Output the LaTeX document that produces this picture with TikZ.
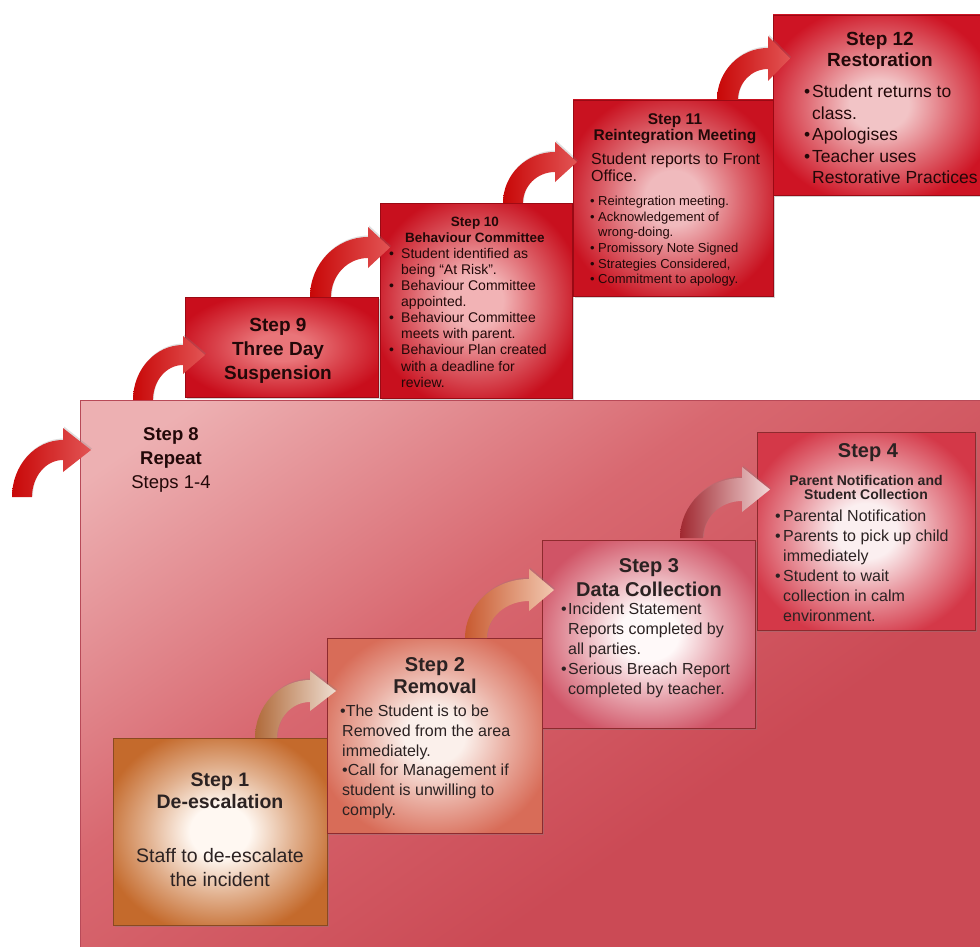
\documentclass[tikz,border=0pt]{standalone}
\usepackage{fontspec}
\setmainfont{Liberation Sans}
\usetikzlibrary{shadows}

% palette
\definecolor{panelLight}{HTML}{EDB0B2}
\definecolor{panelMid}{HTML}{D86870}
\definecolor{panelDark}{HTML}{CB4A55}
\definecolor{panelEdge}{HTML}{B84A58}
\definecolor{redEdge}{HTML}{9A0A14}
\definecolor{pinkEdge}{HTML}{8E2A2E}
\definecolor{brownEdge}{HTML}{8A4A20}
\definecolor{inkDark}{HTML}{220808}
\definecolor{inkGrey}{HTML}{2B2222}
% box centres and rims
\definecolor{nineIn}{HTML}{E97579}   \definecolor{nineOut}{HTML}{C90E1C}
\definecolor{tenIn}{HTML}{F2B3B5}    \definecolor{tenOut}{HTML}{C8101E}
\definecolor{elevenIn}{HTML}{F0BABD} \definecolor{elevenOut}{HTML}{C91220}
\definecolor{twelveIn}{HTML}{F2C4C6} \definecolor{twelveOut}{HTML}{CE1424}
\definecolor{oneIn}{HTML}{FFF8F2}    \definecolor{oneOut}{HTML}{C46A2C}
\definecolor{twoIn}{HTML}{FBF0EB}    \definecolor{twoOut}{HTML}{D86C58}
\definecolor{threeIn}{HTML}{FFF9F9}  \definecolor{threeOut}{HTML}{D05466}
\definecolor{fourIn}{HTML}{FBEFF0}   \definecolor{fourOut}{HTML}{D43848}
% arrow colours
\definecolor{curlRed}{HTML}{C80808}   \definecolor{curlRedHead}{HTML}{E25454}
\definecolor{curlTan}{HTML}{B06A3A}   \definecolor{curlTanHead}{HTML}{EEDDD0}
\definecolor{curlOrange}{HTML}{C85A30}\definecolor{curlOrangeHead}{HTML}{F2C8B0}
\definecolor{curlWine}{HTML}{A02830}  \definecolor{curlWineHead}{HTML}{F2D8D8}

% soft glow inside each step box (colours set per box)
\colorlet{boxin}{white}\colorlet{boxmid}{gray}\colorlet{boxout}{black}
\pgfdeclareradialshading[boxin,boxmid,boxout]{boxglow}{\pgfpoint{0bp}{0bp}}{%
  color(0bp)=(boxin); color(7bp)=(boxin); color(17bp)=(boxmid);
  color(28bp)=(boxout); color(50bp)=(boxout)}
% diagonal fade of the big panel, light towards its top-left corner
\pgfdeclareverticalshading{panelfade}{100bp}{%
  color(0bp)=(panelDark); color(36bp)=(panelDark); color(58bp)=(panelMid);
  color(80bp)=(panelLight); color(100bp)=(panelLight)}

\newcommand{\stfont}[2]{\fontsize{#1pt}{#2pt}\selectfont}
\newcommand{\stbul}[1][7pt]{\makebox[#1][l]{\textbullet}}
\newcommand{\stind}[1][7pt]{\hspace*{#1}}

% curved step arrow: #1 tail corner, #2 x radius, #3 y radius, #4 band width,
% #5 head overhang, #6 head length, #7 tail colour, #8 head colour
\newcommand{\stepcurl}[8]{%
  \begin{scope}[shift={(#1)},yscale=-1]
    \shade[left color=#7,right color=#8,curlshadow]
      (0,0) arc[start angle=180,end angle=90,x radius=#2,y radius=#3]
      -- ++(0,#5) -- ++(#6,{-#5-#4/2}) -- ++(-#6,{-#5-#4/2}) -- ++(0,#5)
      arc[start angle=90,end angle=180,x radius={#2-#4},y radius={#3-#4}]
      -- cycle;
  \end{scope}}

\tikzset{
  stepbox/.style n args={3}{anchor=north west, rectangle, inner sep=0pt,
    outer sep=0pt, draw=#3, line width=0.8pt,
    /utils/exec={\colorlet{boxin}{#1}\colorlet{boxout}{#2}\colorlet{boxmid}{#1!50!#2}},
    shade, shading=boxglow,
    drop shadow={opacity=0.35, shadow xshift=1.5pt, shadow yshift=-2pt}},
  curlshadow/.style={drop shadow={opacity=0.25, shadow xshift=1pt, shadow yshift=1.5pt}},
  ttl/.style={anchor=north, inner sep=0pt, align=center},
  txt/.style={anchor=north west, inner sep=0pt, align=left},
  upper/.style={text=inkDark},
  lower/.style={text=inkGrey},
}

\begin{document}
\begin{tikzpicture}[x=1pt,y=-1pt]
\useasboundingbox (0,0) rectangle (980,947);
\fill[white] (0,0) rectangle (980,947);

% ---- step 8 panel holding steps 1-4
\node[anchor=north west, rectangle, inner sep=0pt, minimum width=905pt,
      minimum height=552pt, shade, shading=panelfade, shading angle=35] (s8) at (80,400) {};
\draw[panelEdge, line width=0.8pt] (s8.north east) -- (s8.north west) -- (s8.south west);

% ---- upper steps 9-12
\node[stepbox={nineIn}{nineOut}{redEdge}, minimum width=193pt, minimum height=100pt] (s9) at (185,297) {};
\node[stepbox={tenIn}{tenOut}{redEdge}, minimum width=192pt, minimum height=195pt] (s10) at (380,203) {};
\node[stepbox={elevenIn}{elevenOut}{redEdge}, minimum width=200pt, minimum height=196pt] (s11) at (573,100) {};
\node[stepbox={twelveIn}{twelveOut}{redEdge}, minimum width=212pt, minimum height=180pt] (s12) at (773,15) {};

% ---- lower steps 1-4
\node[stepbox={oneIn}{oneOut}{brownEdge}, minimum width=214pt, minimum height=187pt] (s1) at (113,738) {};
\node[stepbox={twoIn}{twoOut}{pinkEdge}, minimum width=215pt, minimum height=195pt] (s2) at (327,638) {};
\node[stepbox={threeIn}{threeOut}{pinkEdge}, minimum width=213pt, minimum height=188pt] (s3) at (542,540) {};
\node[stepbox={fourIn}{fourOut}{pinkEdge}, minimum width=218pt, minimum height=198pt] (s4) at (757,432) {};

% ---- arrows between steps
\coordinate (c8) at (12,497);
\coordinate (c9) at (133,400);
\coordinate (c10) at (310,297);
\coordinate (c11) at (503,203);
\coordinate (c12) at (717,100);
\coordinate (c2) at (255,738);
\coordinate (c3) at (465,638);
\coordinate (c4) at (680,538);
\stepcurl{c8}{51}{57}{20}{12}{28}{curlRed}{curlRedHead}
\stepcurl{c9}{50}{55}{20}{9}{22}{curlRed}{curlRedHead}
\stepcurl{c10}{58}{60}{21}{10}{22}{curlRed}{curlRedHead}
\stepcurl{c11}{52}{51}{20}{10}{22}{curlRed}{curlRedHead}
\stepcurl{c12}{51}{52}{21}{12}{22}{curlRed}{curlRedHead}
\stepcurl{c2}{55}{58}{22}{9}{26}{curlTan}{curlTanHead}
\stepcurl{c3}{64}{59}{22}{10}{25}{curlOrange}{curlOrangeHead}
\stepcurl{c4}{62}{60}{23}{11}{28}{curlWine}{curlWineHead}

% ---- texts, steps 8-12
\node[ttl, upper, font={\stfont{18.5}{24}}] (t8) at (171,427)
  {\textbf{Step 8}\\\textbf{Repeat}\\Steps 1-4};
\node[ttl, upper, font={\stfont{19}{24}\bfseries}] (t9) at (278,318)
  {Step 9\\Three Day\\Suspension};
\node[ttl, upper, font={\stfont{13.5}{16}\bfseries}] (t10) at (475,217)
  {Step 10\\Behaviour Committee};
\node[txt, upper, font={\stfont{14}{16.1}}] (b10) at (389,248)
  {\stbul[12pt]Student identified as\\
   \stind[12pt]being “At Risk”.\\
   \stbul[12pt]Behaviour Committee\\
   \stind[12pt]appointed.\\
   \stbul[12pt]Behaviour Committee\\
   \stind[12pt]meets with parent.\\
   \stbul[12pt]Behaviour Plan created\\
   \stind[12pt]with a deadline for\\
   \stind[12pt]review.};
\node[ttl, upper, font={\stfont{15.5}{16}\bfseries}] (t11) at (675,113)
  {Step 11\\Reintegration Meeting};
\node[txt, upper, font={\stfont{16}{17}}] (i11) at (591,153)
  {Student reports to Front\\Office.};
\node[txt, upper, font={\stfont{13}{15.6}}] (b11) at (590,196)
  {\stbul[8pt]Reintegration meeting.\\
   \stbul[8pt]Acknowledgement of\\
   \stind[8pt]wrong-doing.\\
   \stbul[8pt]Promissory Note Signed\\
   \stbul[8pt]Strategies Considered,\\
   \stbul[8pt]Commitment to apology.};
\node[ttl, upper, font={\stfont{19}{21.5}\bfseries}] (t12) at (880,32)
  {Step 12\\Restoration};
\node[txt, upper, font={\stfont{17.5}{21.5}}] (b12) at (804,85)
  {\stbul[8pt]Student returns to\\
   \stind[8pt]class.\\
   \stbul[8pt]Apologises\\
   \stbul[8pt]Teacher uses\\
   \stind[8pt]Restorative Practices};

% ---- texts, steps 1-4
\node[ttl, lower, font={\stfont{19.5}{22}\bfseries}] (t1) at (220,773)
  {Step 1\\De-escalation};
\node[ttl, lower, font={\stfont{19.5}{24}}] (b1) at (220,848)
  {Staff to de-escalate\\the incident};
\node[ttl, lower, font={\stfont{20}{22}\bfseries}] (t2) at (435,657)
  {Step 2\\Removal};
\node[txt, lower, font={\stfont{16}{19.7}}] (b2) at (340,705)
  {\textbullet The Student is to be\\
   \stind[2pt]Removed from the area\\
   \stind[2pt]immediately.\\
   \stind[2pt]\textbullet Call for Management if\\
   \stind[2pt]student is unwilling to\\
   \stind[2pt]comply.};
\node[ttl, lower, font={\stfont{20}{24}\bfseries}] (t3) at (649,558)
  {Step 3\\Data Collection};
\node[txt, lower, font={\stfont{16}{20}}] (b3) at (561,603)
  {\stbul[7pt]Incident Statement\\
   \stind[7pt]Reports completed by\\
   \stind[7pt]all parties.\\
   \stbul[7pt]Serious Breach Report\\
   \stind[7pt]completed by teacher.};
\node[ttl, lower, font={\stfont{20}{22}\bfseries}] (t4) at (868,443) {Step 4};
\node[ttl, lower, font={\stfont{14}{14.5}\bfseries}] (u4) at (866,475)
  {Parent Notification and\\Student Collection};
\node[txt, lower, font={\stfont{16}{20}}] (b4) at (775,510)
  {\stbul[8pt]Parental Notification\\
   \stbul[8pt]Parents to pick up child\\
   \stind[8pt]immediately\\
   \stbul[8pt]Student to wait\\
   \stind[8pt]collection in calm\\
   \stind[8pt]environment.};
\end{tikzpicture}
\end{document}
